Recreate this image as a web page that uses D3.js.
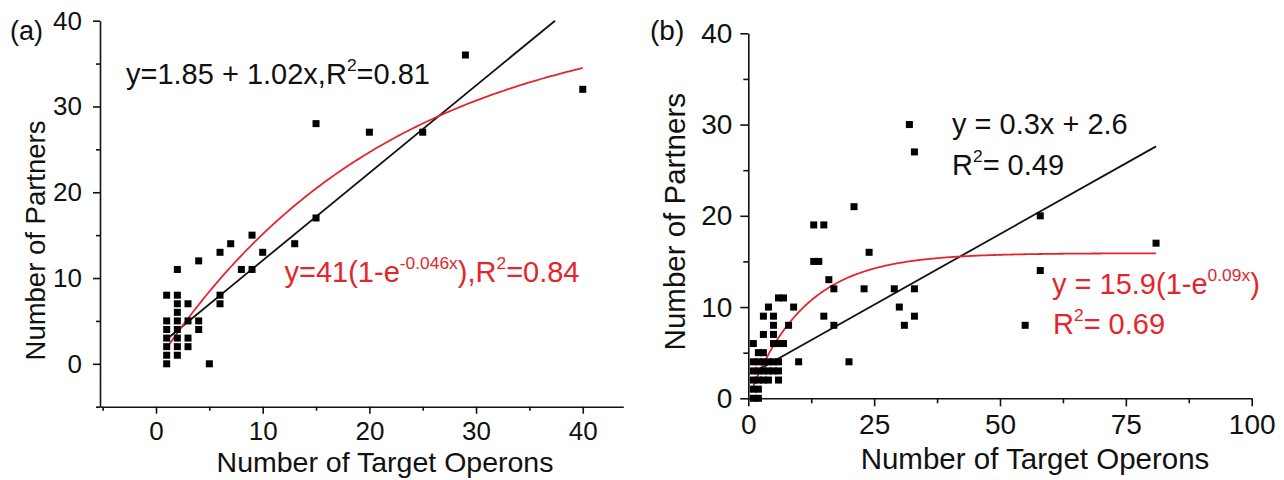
<!DOCTYPE html>
<html><head><meta charset="utf-8">
<script src="https://cdn.jsdelivr.net/npm/d3@7"></script>
<style>
body{margin:0;background:#fff}
text{font-family:"Liberation Sans",Arial,sans-serif}
</style>
</head><body>
<svg id="chart" width="1284" height="480"></svg>
<script>
// ---------- Panel (a) data ----------
const aTargets  = [40,29,15,20,25,15,9,7,13,6,10,4,2,8,9,6,6,1,2,2,3,2,1,2,3,4,1,2,4,1,2,3,1,2,3,1,2,1,5];
const aPartners = [32,36,28,27,27,17,15,14,14,13,13,12,11,11,11,8,7,8,8,7,7,6,5,5,5,5,4,4,4,3,3,3,2,2,2,1,1,0,0];
const aLinFit = [1.85, 1.02];      // intercept, slope
const aExpFit = [41, 0.046];       // A, k  : y = A(1-e^{-kx})
const aXTicks = [0,10,20,30,40];
const aXMinor = [-5,5,15,25,35];
const aYTicks = [0,10,20,30,40];
const aYMinor = [-5,5,15,25,35];

// ---------- Panel (b) data ----------
const bTargets  = [32,33,21,13,15,58,81,58,55,24,13,14,16,17,23,29,33,30,15,33,17,31,20,10,9,8,6,7,4,3,5,5,3,5,1,5,6,7,2,3,1,2,3,4,5,6,1,2,3,4,5,6,1,2,3,4,6,1,2,1,2];
const bPartners = [30,27,21,19,19,20,17,14,8,16,15,15,13,12,12,12,12,10,9,9,8,8,4,4,10,8,11,11,10,9,9,8,7,7,6,6,6,6,5,5,4,4,4,4,4,4,3,3,3,3,3,3,2,2,2,2,2,1,1,0,0];
const bLinFit = [2.5, 0.31];       // line as drawn (label: y = 0.3x + 2.6)
const bExpFit = [15.9, 0.09];
const bXTicks = [0,25,50,75,100];
const bXMinor = [12.5,37.5,62.5,87.5];
const bYTicks = [0,10,20,30,40];
const bYMinor = [5,15,25,35];

const RED = "#e4262c";
const svg = d3.select("#chart");
svg.append("rect").attr("width",1284).attr("height",480).attr("fill","#fff");

function richText(g, x, y, parts, size, color, anchor){
  const t = g.append("text").attr("x",x).attr("y",y).attr("font-size",size)
    .attr("fill",color).attr("text-anchor",anchor||"start");
  let prevSup = false;
  parts.forEach(p=>{
    const [s, sup] = p;
    const ts = t.append("tspan").text(s);
    if(sup){ ts.attr("font-size", size*0.6).attr("dy", -size*0.42); }
    else if(prevSup){ ts.attr("dy", size*0.42); }
    prevSup = !!sup;
  });
  return t;
}

function panel(opts){
  const g = svg.append("g");
  const x = opts.x, y = opts.y;
  // minor ticks
  g.append("g").attr("transform",`translate(0,${y.range()[0]})`)
    .call(d3.axisBottom(x).tickValues(opts.xMinor).tickSize(opts.minor).tickFormat(""))
    .call(s=>s.select(".domain").remove());
  g.append("g").attr("transform",`translate(${x.range()[0]},0)`)
    .call(d3.axisLeft(y).tickValues(opts.yMinor).tickSize(opts.minor).tickFormat(""))
    .call(s=>s.select(".domain").remove());
  // major
  const gx = g.append("g").attr("transform",`translate(0,${y.range()[0]})`)
    .call(d3.axisBottom(x).tickValues(opts.xTicks).tickSize(opts.major).tickSizeOuter(0)
      .tickPadding(opts.xPad).tickFormat(d3.format("d")));
  const gy = g.append("g").attr("transform",`translate(${x.range()[0]},0)`)
    .call(d3.axisLeft(y).tickValues(opts.yTicks).tickSize(opts.major).tickSizeOuter(0)
      .tickPadding(opts.yPad).tickFormat(d3.format("d")));
  [gx,gy].forEach(a=>{
    a.selectAll("text").attr("font-size",opts.tickFont).attr("fill","#111")
      .attr("font-family","'Liberation Sans',Arial,sans-serif");
  });
  g.selectAll(".domain, .tick line").attr("stroke","#111").attr("stroke-width",1.6);
  // fit lines
  const lin = opts.lin, ex = opts.exp;
  const xl1 = Math.min(opts.linEnd, (y.domain()[1]-lin[0])/lin[1]);
  g.append("line").attr("x1",x(opts.fitStart)).attr("y1",y(lin[0]+lin[1]*opts.fitStart))
    .attr("x2",x(xl1)).attr("y2",y(lin[0]+lin[1]*xl1))
    .attr("stroke","#111").attr("stroke-width",1.8);
  const pts = d3.range(opts.fitStart, opts.expEnd+0.001, 0.25);
  g.append("path").datum(pts)
    .attr("d", d3.line().x(d=>x(d)).y(d=>y(ex[0]*(1-Math.exp(-ex[1]*d)))))
    .attr("fill","none").attr("stroke",RED).attr("stroke-width",1.8);
  // points
  const s = 7;
  g.append("g").selectAll("rect").data(opts.tx.map((v,i)=>[v,opts.ty[i]])).join("rect")
    .attr("x",d=>x(d[0])-s/2).attr("y",d=>y(d[1])-s/2).attr("width",s).attr("height",s)
    .attr("fill","#000");
  return g;
}

// Panel (a)
const xA = d3.scaleLinear().domain([-5.25, 43.8]).range([100, 623.3]);
const yA = d3.scaleLinear().domain([-5, 40]).range([406.7, 20.7]);
const gA = panel({x:xA,y:yA,xTicks:aXTicks,xMinor:aXMinor,yTicks:aYTicks,yMinor:aYMinor,
  major:7,minor:4,xPad:8,yPad:11,tickFont:26,lin:aLinFit,exp:aExpFit,fitStart:1,linEnd:40,expEnd:40,
  tx:aTargets,ty:aPartners});
gA.append("text").attr("x",385).attr("y",472).attr("text-anchor","middle").attr("font-size",28.5)
  .attr("fill","#111").text("Number of Target Operons");
gA.append("text").attr("transform","translate(45,240.5) rotate(-90)").attr("text-anchor","middle")
  .attr("font-size",27.5).attr("fill","#111").text("Number of Partners");
gA.append("text").attr("x",10).attr("y",40).attr("font-size",27)
  .attr("font-family","'Liberation Serif','Times New Roman',serif").attr("fill","#111").text("(a)");
richText(gA,126,83.5,[["y=1.85 + 1.02x,R"],["2",1],["=0.81"]],29,"#111");
richText(gA,284.5,281.5,[["y=41(1-e"],["-0.046x",1],["),R"],["2",1],["=0.84"]],29,RED);

// Panel (b)
const xB = d3.scaleLinear().domain([0,100]).range([748.3, 1251.7]);
const yB = d3.scaleLinear().domain([0,40]).range([398.3, 33.3]);
const gB = panel({x:xB,y:yB,xTicks:bXTicks,xMinor:bXMinor,yTicks:bYTicks,yMinor:bYMinor,
  major:8,minor:5,xPad:8,yPad:8,tickFont:28,lin:bLinFit,exp:bExpFit,fitStart:1,linEnd:81,expEnd:81,
  tx:bTargets,ty:bPartners});
gB.append("text").attr("x",1035).attr("y",469).attr("text-anchor","middle").attr("font-size",29.5)
  .attr("fill","#111").text("Number of Target Operons");
gB.append("text").attr("transform","translate(685,221.7) rotate(-90)").attr("text-anchor","middle")
  .attr("font-size",29.5).attr("fill","#111").text("Number of Partners");
gB.append("text").attr("x",650).attr("y",40).attr("font-size",28)
  .attr("font-family","'Liberation Serif','Times New Roman',serif").attr("fill","#111").text("(b)");
richText(gB,952,133.5,[["y = 0.3x + 2.6"]],29,"#111");
richText(gB,952,174.5,[["R"],["2",1],["= 0.49"]],29,"#111");
richText(gB,1052,293.5,[["y = 15.9(1-e"],["0.09x",1],[")"]],29,RED);
richText(gB,1053,333.5,[["R"],["2",1],["= 0.69"]],29,RED);
</script>
</body></html>
